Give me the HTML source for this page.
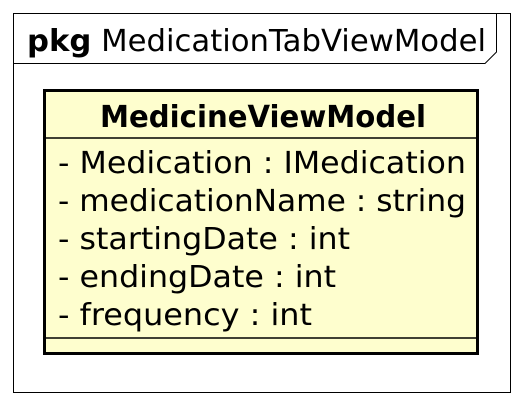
<!DOCTYPE html>
<html><head><style>body{margin:0;background:#fff}</style></head><body>
<svg width="529" height="406" xmlns="http://www.w3.org/2000/svg" font-family="DejaVu Sans, sans-serif">
<rect x="13.5" y="13.5" width="497" height="379" fill="#fff" stroke="#000" stroke-width="1"/>
<path d="M13.5 63.5 H485 L496.5 52 V13.5" fill="none" stroke="#000" stroke-width="1"/>
<text x="27" y="51" font-size="30" textLength="459" lengthAdjust="spacingAndGlyphs"><tspan font-weight="bold">pkg</tspan> MedicationTabViewModel</text>
<rect x="44.5" y="90.5" width="433" height="263" fill="#FEFECE" stroke="#000" stroke-width="3"/>
<line x1="44" y1="138" x2="478" y2="138" stroke="#000" stroke-width="1.5"/>
<line x1="44" y1="338" x2="478" y2="338" stroke="#000" stroke-width="1.5"/>
<text x="100" y="127" font-size="30" font-weight="bold" textLength="326" lengthAdjust="spacingAndGlyphs">MedicineViewModel</text>
<g font-size="30">
<text x="58" y="173" textLength="408" lengthAdjust="spacingAndGlyphs">- Medication : IMedication</text>
<text x="58" y="211" textLength="408" lengthAdjust="spacingAndGlyphs">- medicationName : string</text>
<text x="58" y="249" textLength="292" lengthAdjust="spacingAndGlyphs">- startingDate : int</text>
<text x="58" y="287" textLength="278" lengthAdjust="spacingAndGlyphs">- endingDate : int</text>
<text x="58" y="325" textLength="254" lengthAdjust="spacingAndGlyphs">- frequency : int</text>
</g>
</svg>
</body></html>
